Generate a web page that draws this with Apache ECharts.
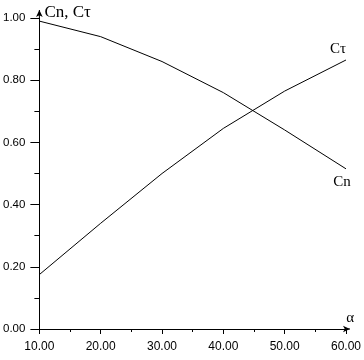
<!DOCTYPE html>
<html><head><meta charset="utf-8">
<script src="https://cdn.jsdelivr.net/npm/echarts@6/dist/echarts.min.js"></script>
<style>html,body{margin:0;padding:0;background:#fff}#c{width:364px;height:360px}</style>
</head><body><div id="c"></div>
<script>
const alpha = [10, 20, 30, 40, 50, 60];
const cn = [0.99, 0.94, 0.86, 0.76, 0.64, 0.515];
const ct = [0.175, 0.34, 0.50, 0.645, 0.765, 0.865];
const yName = 'Cn, Cτ';
const xName = 'α';
const cnName = 'Cn';
const ctName = 'Cτ';

const chart = echarts.init(document.getElementById('c'), null, {renderer: 'canvas'});
const sans = 'Liberation Sans, Arial, sans-serif';
const serif = 'Liberation Serif, Times New Roman, serif';
chart.setOption({
  animation: false,
  grid: {left: 38, right: 14.5, top: 18, bottom: 31},
  xAxis: {
    type: 'value', min: 10, max: 60, interval: 10,
    axisLine: {show: true, lineStyle: {color: '#000', width: 1}, symbol: ['none', 'arrow'], symbolSize: [5, 7], symbolOffset: [0, 4]},
    axisTick: {show: true, length: 5, lineStyle: {color: '#000'}},
    minorTick: {show: true, splitNumber: 2, length: 3, lineStyle: {color: '#000'}},
    splitLine: {show: false},
    axisLabel: {margin: 12, formatter: v => v.toFixed(2), fontFamily: sans, fontSize: 12, color: '#000'}
  },
  yAxis: {
    type: 'value', min: 0, max: 1, interval: 0.2,
    axisLine: {show: true, lineStyle: {color: '#000', width: 1}, symbol: ['none', 'arrow'], symbolSize: [5, 7], symbolOffset: [0, 8]},
    axisTick: {show: true, length: 9, lineStyle: {color: '#000'}},
    minorTick: {show: true, splitNumber: 2, length: 5, lineStyle: {color: '#000'}},
    splitLine: {show: false},
    axisLabel: {margin: 14, formatter: v => v.toFixed(2), fontFamily: sans, fontSize: 11.5, color: '#000'}
  },
  series: [
    {type: 'line', data: alpha.map((a, i) => [a, cn[i]]), symbol: 'none', lineStyle: {color: '#000', width: 1},
     endLabel: {show: true, formatter: cnName, fontFamily: serif, fontSize: 15, color: '#000', align: 'center', verticalAlign: 'top', offset: [-12, 6]}},
    {type: 'line', data: alpha.map((a, i) => [a, ct[i]]), symbol: 'none', lineStyle: {color: '#000', width: 1},
     endLabel: {show: true, formatter: ctName, fontFamily: serif, fontSize: 15, color: '#000', align: 'center', verticalAlign: 'bottom', offset: [-16, -3]}}
  ]
});
const top1 = chart.convertToPixel({gridIndex: 0}, [10, 1]);
const xEnd = chart.convertToPixel({gridIndex: 0}, [60, 0]);
chart.setOption({
  graphic: [
    {type: 'line', shape: {x1: top1[0], y1: top1[1], x2: top1[0], y2: top1[1] - 8}, style: {stroke: '#000', lineWidth: 1}},
    {type: 'line', shape: {x1: xEnd[0], y1: xEnd[1], x2: xEnd[0] + 4, y2: xEnd[1]}, style: {stroke: '#000', lineWidth: 1}},
    {type: 'text', x: top1[0] + 5, y: top1[1] - 5, style: {text: yName, font: '17px ' + serif, fill: '#000', textVerticalAlign: 'middle'}},
    {type: 'text', x: xEnd[0] + 8, y: xEnd[1] - 3, style: {text: xName, font: '15px ' + serif, fill: '#000', textAlign: 'right', textVerticalAlign: 'bottom'}}
  ]
});
</script></body></html>
